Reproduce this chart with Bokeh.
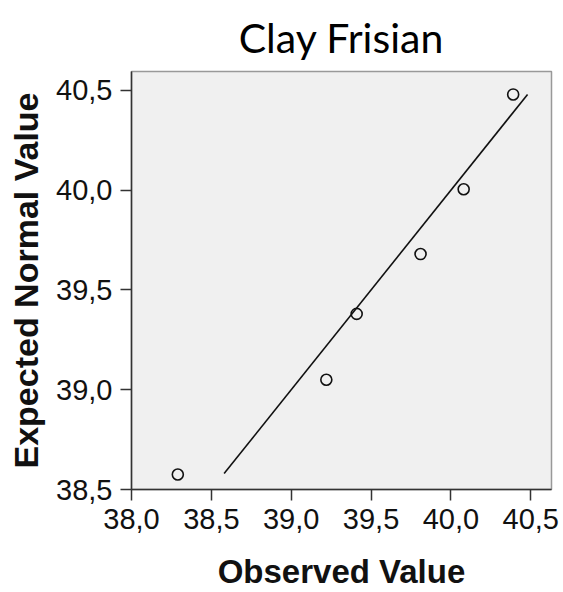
from bokeh.plotting import figure
from bokeh.models import Range1d, FixedTicker, Title
from bokeh.embed import file_html
from bokeh.resources import INLINE

# data
observed = [38.29, 39.22, 39.41, 39.81, 40.08, 40.39]
expected = [38.575, 39.05, 39.38, 39.68, 40.005, 40.48]
ref_line = [38.58, 40.48]  # y = x reference line
x_ticks = [38.0, 38.5, 39.0, 39.5, 40.0, 40.5]
x_labels = ["38,0", "38,5", "39,0", "39,5", "40,0", "40,5"]
y_ticks = [38.5, 39.0, 39.5, 40.0, 40.5]
y_labels = ["38,5", "39,0", "39,5", "40,0", "40,5"]

p = figure(width=563, height=592, output_backend="svg", toolbar_location=None,
           x_range=Range1d(38.0, 40.63), y_range=Range1d(38.5, 40.595),
           min_border_left=131, min_border_right=12, min_border_top=71,
           min_border_bottom=102)
p.title = Title(text="Clay Frisian", align="center", text_font="Lato",
                text_font_size="41px", text_font_style="normal",
                text_color="#000000", offset=0, standoff=20)
p.background_fill_color = "#f0f0f0"
p.border_fill_color = "#ffffff"
p.outline_line_color = "#999999"
p.outline_line_width = 1.5
p.grid.visible = False

for ax in (p.xaxis[0], p.yaxis[0]):
    ax.axis_line_color = "#333333"
    ax.axis_line_width = 1.5
    ax.major_tick_line_color = "#333333"
    ax.major_tick_line_width = 1.5
    ax.major_tick_out = 11
    ax.major_tick_in = 0
    ax.minor_tick_out = 0
    ax.minor_tick_in = 0
    ax.major_label_text_font = "Liberation Sans"
    ax.major_label_text_font_size = "29px"
    ax.major_label_text_color = "#111111"
    ax.axis_label_text_font = "Liberation Sans"
    ax.axis_label_text_font_style = "bold"
    ax.axis_label_text_color = "#111111"

p.xaxis.axis_label_text_font_size = "33px"
p.yaxis.axis_label_text_font_size = "34px"
p.xaxis.ticker = FixedTicker(ticks=x_ticks)
p.xaxis.major_label_overrides = dict(zip(x_ticks, x_labels))
p.yaxis.ticker = FixedTicker(ticks=y_ticks)
p.yaxis.major_label_overrides = dict(zip(y_ticks, y_labels))
p.xaxis.axis_label = "Observed Value"
p.yaxis.axis_label = "Expected Normal Value"
p.xaxis.major_label_standoff = 8
p.yaxis.major_label_standoff = 8
p.xaxis.axis_label_standoff = 21
p.yaxis.axis_label_standoff = 8

p.line(ref_line, ref_line, line_color="#111111", line_width=1.6)
p.scatter(observed, expected, marker="circle", size=11, fill_alpha=0,
          line_color="#111111", line_width=1.6)

open("out.html", "w").write(file_html(p, INLINE))
